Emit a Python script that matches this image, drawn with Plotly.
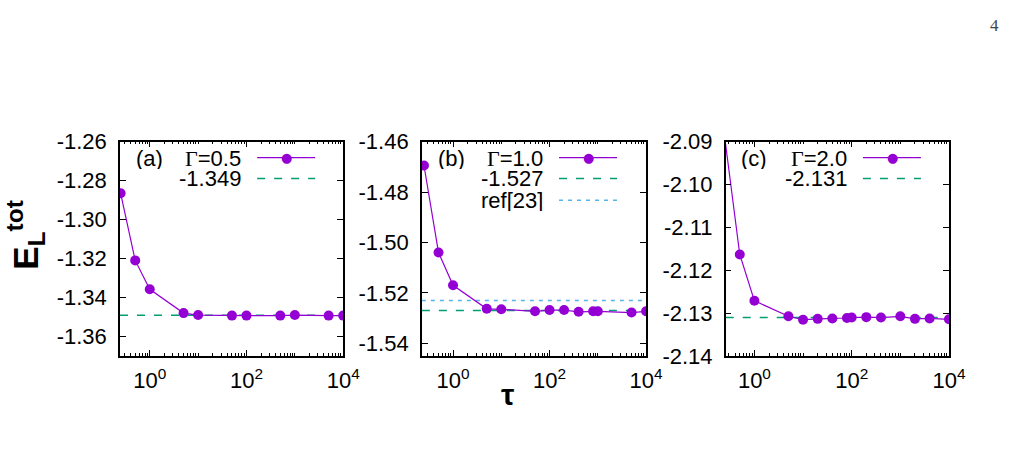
import plotly.graph_objects as go

# ---------------- data ----------------
tau_a = [0.25, 0.5, 1, 5, 10, 50, 100, 500, 1000, 5000, 10000]
e_a = [-1.2865, -1.3209, -1.3357, -1.3479, -1.3489, -1.3492, -1.3492, -1.3492, -1.3489, -1.3492, -1.3492]
ref_a = -1.349

tau_b = [0.25, 0.5, 1, 5, 10, 50, 100, 200, 400, 800, 1000, 5000, 10000]
e_b = [-1.4695, -1.5040, -1.5170, -1.5263, -1.5265, -1.5273, -1.5268, -1.5268, -1.5275, -1.5273, -1.5273, -1.5278, -1.5273]
ref_b = -1.527
lit_b = -1.523

tau_c = [0.25, 0.5, 1, 5, 10, 20, 40, 80, 100, 200, 400, 1000, 2000, 4000, 10000]
e_c = [-2.0898, -2.1163, -2.1271, -2.1307, -2.1315, -2.1313, -2.1312, -2.1311, -2.1310, -2.1309, -2.1310, -2.1307, -2.1313, -2.1312, -2.1314]
ref_c = -2.131

gammas = ["0.5", "1.0", "2.0"]
panel_tags = ["(a)", "(b)", "(c)"]
ytick_a = [-1.26, -1.28, -1.30, -1.32, -1.34, -1.36]
ytick_b = [-1.46, -1.48, -1.50, -1.52, -1.54]
ytick_c = [-2.09, -2.10, -2.11, -2.12, -2.13, -2.14]
xtick_vals = [1, 100, 10000]
xtick_text = ["10<sup>0</sup>", "10<sup>2</sup>", "10<sup>4</sup>"]

# ---------------- style ----------------
W, H = 1022, 460
PURPLE = "#9400D3"
GREEN = "#009E73"
BLUE = "#56B4E9"
SANS = "Liberation Sans, Arial, sans-serif"
SERIF = "Liberation Serif, Times New Roman, serif"
FS = 22

panels = [
    dict(tau=tau_a, e=e_a, ref=ref_a, lit=None, yt=ytick_a, yr=[-1.37, -1.26], xr=[-0.616, 4.0], px=(122, 349)),
    dict(tau=tau_b, e=e_b, ref=ref_b, lit=lit_b, yt=ytick_b, yr=[-1.5451, -1.46], xr=[-0.646, 4.0], px=(429, 657)),
    dict(tau=tau_c, e=e_c, ref=ref_c, lit=None, yt=ytick_c, yr=[-2.14, -2.09], xr=[-0.59, 4.0], px=(738, 965)),
]
PY_TOP, PY_BOT = 137, 364


def fx(px):
    return px / W


def fy(py):
    return 1 - py / H


fig = go.Figure()
shapes = []
annotations = []

for i, p in enumerate(panels):
    n = "" if i == 0 else str(i + 1)
    xa, ya = "x" + n, "y" + n
    xmin, xmax = 10 ** p["xr"][0], 10 ** p["xr"][1]
    if p["lit"] is not None:
        fig.add_trace(go.Scatter(x=[xmin, xmax], y=[p["lit"], p["lit"]], mode="lines", xaxis=xa, yaxis=ya,
                                 line=dict(color=BLUE, width=1.6, dash="4px,5px"), showlegend=False))
    fig.add_trace(go.Scatter(x=[xmin, xmax], y=[p["ref"], p["ref"]], mode="lines", xaxis=xa, yaxis=ya,
                             line=dict(color=GREEN, width=1.6, dash="8px,9px"), showlegend=False))
    # markers hidden for points outside the y range (as gnuplot does)
    sizes = [10 if p["yr"][0] <= v <= p["yr"][1] else 0 for v in p["e"]]
    fig.add_trace(go.Scatter(x=p["tau"], y=p["e"], mode="lines+markers", xaxis=xa, yaxis=ya,
                             line=dict(color=PURPLE, width=1.2),
                             marker=dict(color=PURPLE, size=sizes, opacity=1, line=dict(width=0)),
                             opacity=1, showlegend=False))

    x0, x1 = p["px"]
    dom_x = [fx(x0), fx(x1)]
    dom_y = [fy(PY_BOT), fy(PY_TOP)]
    common = dict(showline=True, linecolor="black", linewidth=1.5, mirror="allticks",
                  ticks="inside", tickcolor="black", tickwidth=1, showgrid=False, zeroline=False,
                  tickfont=dict(family=SANS, size=FS, color="black"))
    fig.update_layout(**{
        "xaxis" + n: dict(domain=dom_x, anchor=ya, type="log", range=p["xr"],
                          tickvals=xtick_vals, ticktext=xtick_text, ticklen=6, ticklabelstandoff=4,
                          minor=dict(ticks="inside", ticklen=3, dtick="D1", tickcolor="black", showgrid=False),
                          **common),
        "yaxis" + n: dict(domain=dom_y, anchor=xa, range=p["yr"], tickvals=p["yt"],
                          ticktext=["%.2f" % v for v in p["yt"]], ticklen=6, ticklabelstandoff=7,
                          **common),
    })

    # key (gnuplot style: text right-aligned, sample to the right)
    txt_r = x0 + 125
    s0, s1 = x0 + 139.5, x0 + 198.5
    smid = x0 + 169.5
    rows = [154, 176, 199]
    annotations.append(dict(x=fx(x0 + 14), y=fy(rows[0]), xref="paper", yref="paper", xanchor="left",
                            yanchor="middle", showarrow=False, text=panel_tags[i], height=22,
                            font=dict(family=SANS, size=FS, color="black")))
    keys = [("<span style='font-family:Liberation Serif'>Γ</span>=" + gammas[i], PURPLE, "solid", True),
            ("%.3f" % p["ref"], GREEN, "8px,9px", False)]
    if p["lit"] is not None:
        keys.append(("ref[23]", BLUE, "4px,5px", False))
    for r, (label, col, dash, mk) in enumerate(keys):
        annotations.append(dict(x=fx(txt_r), y=fy(rows[r]), xref="paper", yref="paper", xanchor="right",
                                yanchor="middle", showarrow=False, text=label, height=22,
                                font=dict(family=SANS, size=FS, color="black")))
        shapes.append(dict(type="line", xref="paper", yref="paper", x0=fx(s0), x1=fx(s1),
                           y0=fy(rows[r]), y1=fy(rows[r]),
                           line=dict(color=col, width=1.2 if mk else 1.6, dash=dash)))
        if mk:
            annotations.append(dict(x=fx(smid), y=fy(rows[r]), xref="paper", yref="paper", xanchor="center",
                                    yanchor="middle", showarrow=False, text="●",
                                    font=dict(family="DejaVu Sans", size=13, color=col)))

# axis titles
annotations.append(dict(x=fx(26), y=fy(236), xref="paper", yref="paper", showarrow=False, textangle=-90,
                        text="<b>E<sub>L</sub><sup>tot</sup></b>", xanchor="center", yanchor="middle",
                        font=dict(family=SANS, size=35, color="black")))
annotations.append(dict(x=fx(516), y=fy(405), xref="paper", yref="paper", showarrow=False,
                        text="<b>τ</b>", xanchor="center", yanchor="middle",
                        font=dict(family=SANS, size=30, color="black")))
# page number
annotations.append(dict(x=fx(1011), y=fy(14), xref="paper", yref="paper", showarrow=False,
                        text="4", xanchor="center", yanchor="middle",
                        font=dict(family=SERIF, size=17, color="#444444")))

fig.update_layout(width=W, height=H, margin=dict(l=0, r=0, t=0, b=0),
                  paper_bgcolor="white", plot_bgcolor="white",
                  shapes=shapes, annotations=annotations, showlegend=False)

fig.write_html("out.html")
